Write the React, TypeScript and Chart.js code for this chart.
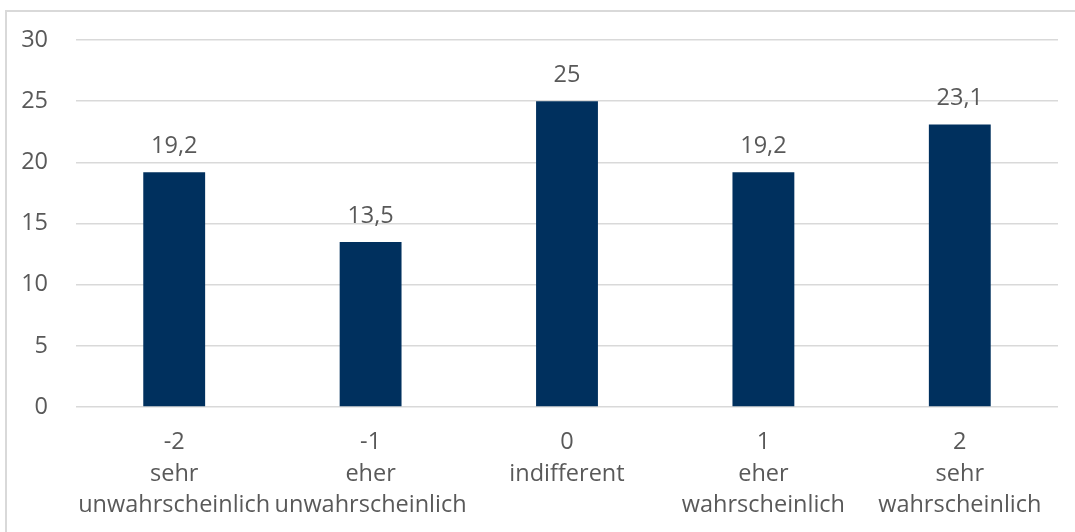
import React, { useEffect, useRef } from "react";
import { Chart, registerables } from "chart.js";

Chart.register(...registerables);

// Scale points and their descriptions
const scalePoints = ["-2", "-1", "0", "1", "2"];
const scaleDescriptions = [
  ["sehr", "unwahrscheinlich"],
  ["eher", "unwahrscheinlich"],
  ["indifferent"],
  ["eher", "wahrscheinlich"],
  ["sehr", "wahrscheinlich"],
];
// Share of answers (%)
const shares = [19.2, 13.5, 25, 19.2, 23.1];
// Value axis
const yMin = 0;
const yMax = 30;
const yStep = 5;

const TEXT = "#595959";
const GRID = "#d9d9d9";
const BAR = "#00305e";
const FONT = "'Open Sans', sans-serif";
const FONT_SIZE = 23.5;

const categoryLabels = scalePoints.map((p, i) => [p, ...scaleDescriptions[i]]);

const valueLabels = {
  id: "valueLabels",
  afterDatasetsDraw(chart: any) {
    const ctx = chart.ctx;
    const meta = chart.getDatasetMeta(0);
    ctx.save();
    ctx.fillStyle = TEXT;
    ctx.font = `${FONT_SIZE}px ${FONT}`;
    ctx.textAlign = "center";
    ctx.textBaseline = "alphabetic";
    meta.data.forEach((bar: any, i: number) => {
      const text = String(shares[i]).replace(".", ",");
      ctx.fillText(text, bar.x, bar.y - 19);
    });
    ctx.restore();
  },
};

export default function App() {
  const ref = useRef<HTMLCanvasElement>(null);

  useEffect(() => {
    document.body.style.overflow = "hidden";
    const chart = new Chart(ref.current!, {
      type: "bar",
      data: {
        labels: categoryLabels,
        datasets: [
          {
            data: shares,
            backgroundColor: BAR,
            borderWidth: 0,
            barPercentage: 0.63,
            categoryPercentage: 0.5,
          },
        ],
      },
      plugins: [valueLabels],
      options: {
        animation: false,
        responsive: false,
        layout: { padding: { top: 40, left: 0, right: 17, bottom: 0 } },
        plugins: {
          legend: { display: false },
          tooltip: { enabled: false },
        },
        scales: {
          x: {
            grid: { display: false, drawTicks: false },
            border: { display: false },
            ticks: {
              color: TEXT,
              font: { family: FONT, size: FONT_SIZE, lineHeight: 1.34 },
              padding: 20,
              maxRotation: 0,
              autoSkip: false,
            },
            afterFit(scale: any) {
              scale.height = 125;
            },
          },
          y: {
            min: yMin,
            max: yMax,
            grid: { color: GRID, lineWidth: 1.5, drawTicks: false },
            border: { display: false },
            ticks: {
              stepSize: yStep,
              color: TEXT,
              font: { family: FONT, size: FONT_SIZE },
              padding: 28,
            },
            afterFit(scale: any) {
              scale.width = 76;
            },
          },
        },
      },
    });
    return () => chart.destroy();
  }, []);

  return (
    <div style={{ position: "absolute", left: 0, top: 0, width: 1075, height: 532, overflow: "hidden" }}>
      <div
        style={{
          position: "absolute",
          left: 5,
          top: 10,
          width: 1070,
          height: 522,
          borderTop: `2px solid ${GRID}`,
          borderLeft: `2px solid ${GRID}`,
          boxSizing: "border-box",
        }}
      />
      <canvas
        ref={ref}
        width={1075}
        height={534}
        style={{ position: "absolute", left: 0, top: -2 }}
      />
    </div>
  );
}
